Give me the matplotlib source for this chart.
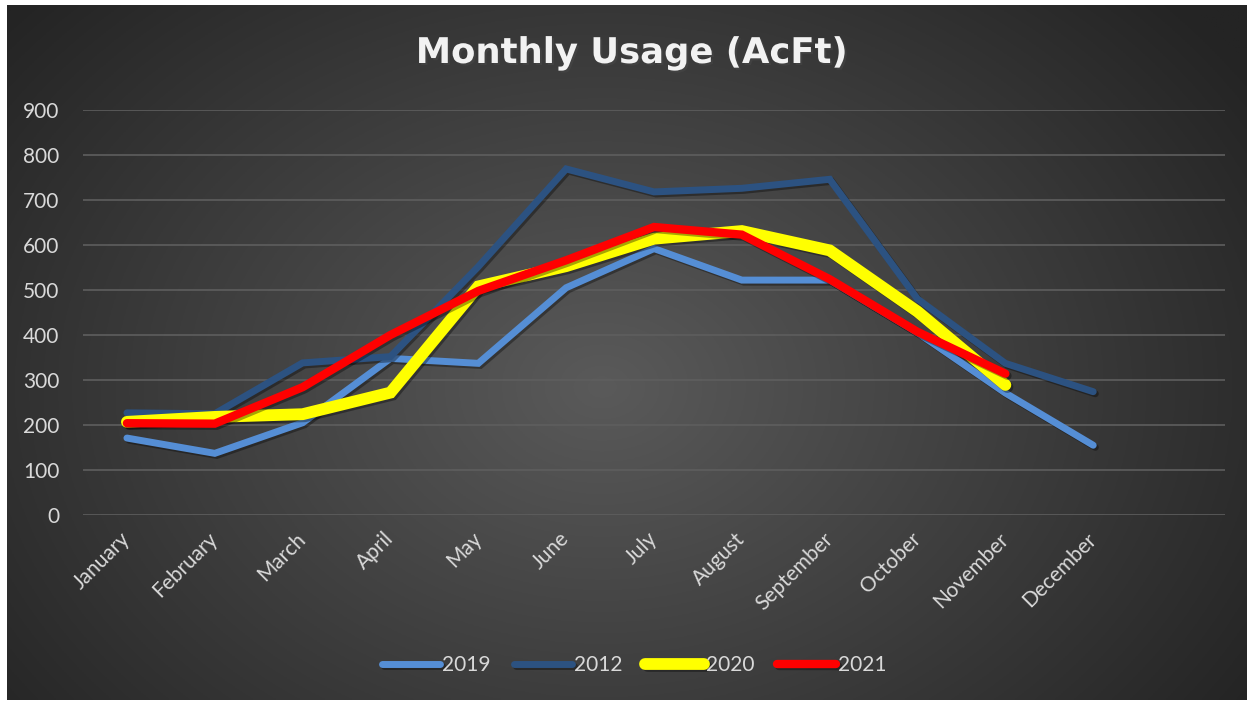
import numpy as np
import matplotlib.pyplot as plt
import matplotlib.patheffects as pe

# Datos
meses = ["January", "February", "March", "April", "May", "June", "July",
         "August", "September", "October", "November", "December"]
uso_2019 = [171, 137, 205, 348, 337, 505, 592, 522, 522, 405, 271, 155]
uso_2012 = [227, 225, 338, 352, 552, 769, 718, 726, 746, 480, 337, 274]
uso_2020 = [207, 218, 224, 272, 508, 553, 614, 631, 588, 452, 289]
uso_2021 = [204, 203, 284, 400, 498, 566, 640, 623, 524, 407, 314]

series = [("2019", uso_2019, "#558ED5", 5.0),
          ("2012", uso_2012, "#2C5281", 5.0),
          ("2020", uso_2020, "#FFFF00", 8.5),
          ("2021", uso_2021, "#FF0000", 6.0)]

texto = "#D9D9D9"
plt.rcParams['font.family'] = ['Lato', 'DejaVu Sans']

fig = plt.figure(figsize=(12.53, 7.03), dpi=100)
fig.patch.set_facecolor("white")

# Fondo con degradado radial
fondo = fig.add_axes([7 / 1253, 3 / 703, 1240 / 1253, 695 / 703])
yy, xx = np.mgrid[0:1:300j, 0:1:500j]
r = np.sqrt(((xx - 0.48) * 1.2) ** 2 + ((yy - 0.45) * 0.9) ** 2)
r = np.clip(r / 0.75, 0, 1)
c0 = np.array([0x5a, 0x5a, 0x5a]) / 255
c1 = np.array([0x24, 0x24, 0x24]) / 255
img = c0[None, None, :] * (1 - r[..., None]) + c1[None, None, :] * r[..., None]
fondo.imshow(img, aspect="auto", extent=[0, 1, 0, 1], origin="lower")
fondo.axis("off")

ax = fig.add_axes([83 / 1253, 1 - 515 / 703, 1142 / 1253, 405 / 703])
ax.set_facecolor("none")

x = np.arange(len(meses))
for nombre, valores, color, ancho in series:
    ax.plot(x[:len(valores)], valores, color=color, lw=ancho, label=nombre,
            solid_capstyle="round", solid_joinstyle="miter",
            path_effects=[pe.SimpleLineShadow(offset=(1.5, -1.5), alpha=0.35),
                          pe.Normal()])

ax.set_xlim(-0.5, 12.5)
ax.set_ylim(0, 900)
ax.set_yticks(range(0, 901, 100))
ax.set_xticks(x)
ax.set_xticklabels(meses, rotation=45, ha="right", va="center",
                   rotation_mode="anchor")
ax.tick_params(axis="both", length=0, colors=texto, labelsize=15)
ax.tick_params(axis="x", pad=15)
ax.tick_params(axis="y", pad=17)
ax.grid(axis="y", color="#5E5E5E", lw=1.2)
ax.set_axisbelow(True)
for lado in ["top", "right", "left", "bottom"]:
    ax.spines[lado].set_visible(False)

fig.text(0.504, 1 - 53 / 703, "Monthly Usage (AcFt)", ha="center", va="center",
         fontsize=25.5, fontweight="bold", color="#F2F2F2",
         family=["DejaVu Sans"],
         path_effects=[pe.withSimplePatchShadow(offset=(1.5, -1.5), alpha=0.5)])

fig.legend(loc="center", bbox_to_anchor=(0.506, 1 - 665 / 703), ncol=4,
           frameon=False, fontsize=15, labelcolor=texto, handlelength=2.8,
           handletextpad=0.1, columnspacing=1.1)

plt.savefig("out.png", dpi=100)
